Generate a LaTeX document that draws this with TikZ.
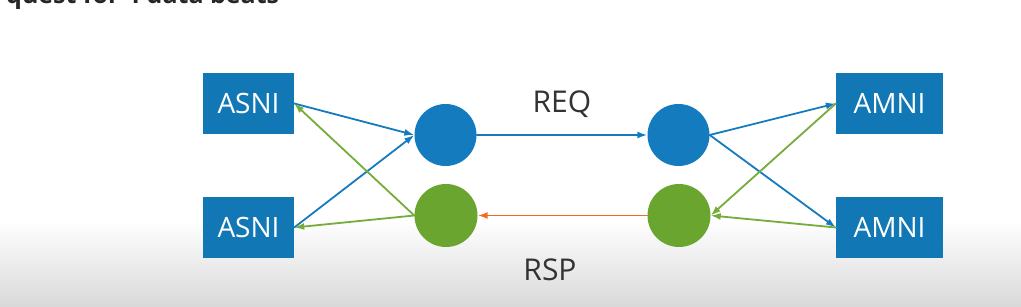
\documentclass[tikz,border=0pt]{standalone}
\usepackage{fontspec}
\setmainfont{Open Sans}
\usepackage{tikz}
\usetikzlibrary{arrows.meta}

\definecolor{nodeblue}{HTML}{1277B5}
\definecolor{ballblue}{HTML}{147BBF}
\definecolor{ballgreen}{HTML}{6AA62F}
\definecolor{linegreen}{HTML}{76AD3A}
\definecolor{lineorange}{HTML}{F26A22}
\definecolor{labelgray}{HTML}{333333}

\begin{document}
\begin{tikzpicture}[x=1pt, y=-1pt, line cap=round, line join=round,
    >={Latex[length=10pt,width=7pt]},
    nibox/.style={fill=nodeblue, text=white, minimum height=61pt, font=\fontsize{28}{30}\selectfont, inner sep=0pt},
    reqball/.style={circle, fill=ballblue, minimum size=62pt, inner sep=0pt},
    rspball/.style={circle, fill=ballgreen, minimum size=63pt, inner sep=0pt},
    reqline/.style={->, line width=1.8pt, ballblue},
    rspline/.style={->, line width=1.8pt, linegreen}]
  % Page frame and the grey fade at the bottom.
  \useasboundingbox (0,0) rectangle (1021,307);
  \fill[white] (0,0) rectangle (1021,307);
  \shade[top color=white, bottom color=black!15] (0,220) rectangle (1021,307);

  % Caption cut off by the top edge.
  \node[anchor=base west, inner sep=0pt, text=black!85, font=\bfseries\fontsize{25}{27}\selectfont] (cap) at (6,4) {quest for 4 data beats};

  % Interfaces on both sides.
  \node[nibox, minimum width=91pt] (asniA) at (248.5,103.5) {ASNI};
  \node[nibox, minimum width=91pt] (asniB) at (248.5,227.5) {ASNI};
  \node[nibox, minimum width=107pt] (amniA) at (889.5,103.5) {AMNI};
  \node[nibox, minimum width=107pt] (amniB) at (889.5,227.5) {AMNI};

  % Request and response channels.
  \node[reqball] (reqL) at (445.5,135) {};
  \node[reqball] (reqR) at (678.5,135) {};
  \node[rspball] (rspL) at (446,215.5) {};
  \node[rspball] (rspR) at (679,215.5) {};

  % Request path.
  \draw[reqline] (asniA.east) -- (reqL.west);
  \draw[reqline] (asniB.east) -- (reqL.west);
  \draw[reqline] (reqL.east) -- (reqR.west);
  \draw[reqline] (reqR.east) -- (amniA.west);
  \draw[reqline] (reqR.east) -- (amniB.west);
  \node[font=\fontsize{30}{32}\selectfont, text=labelgray] (req) at (562,104) {REQ};

  % Response path.
  \draw[rspline] (amniA.west) -- (rspR.east);
  \draw[rspline] (amniB.west) -- (rspR.east);
  \draw[->, line width=1.8pt, lineorange] (rspR.west) -- (rspL.east);
  \draw[rspline] (rspL.west) -- (asniA.east);
  \draw[rspline] (rspL.west) -- (asniB.east);
  \node[font=\fontsize{30}{32}\selectfont, text=labelgray] (rsp) at (550,270) {RSP};
\end{tikzpicture}
\end{document}
